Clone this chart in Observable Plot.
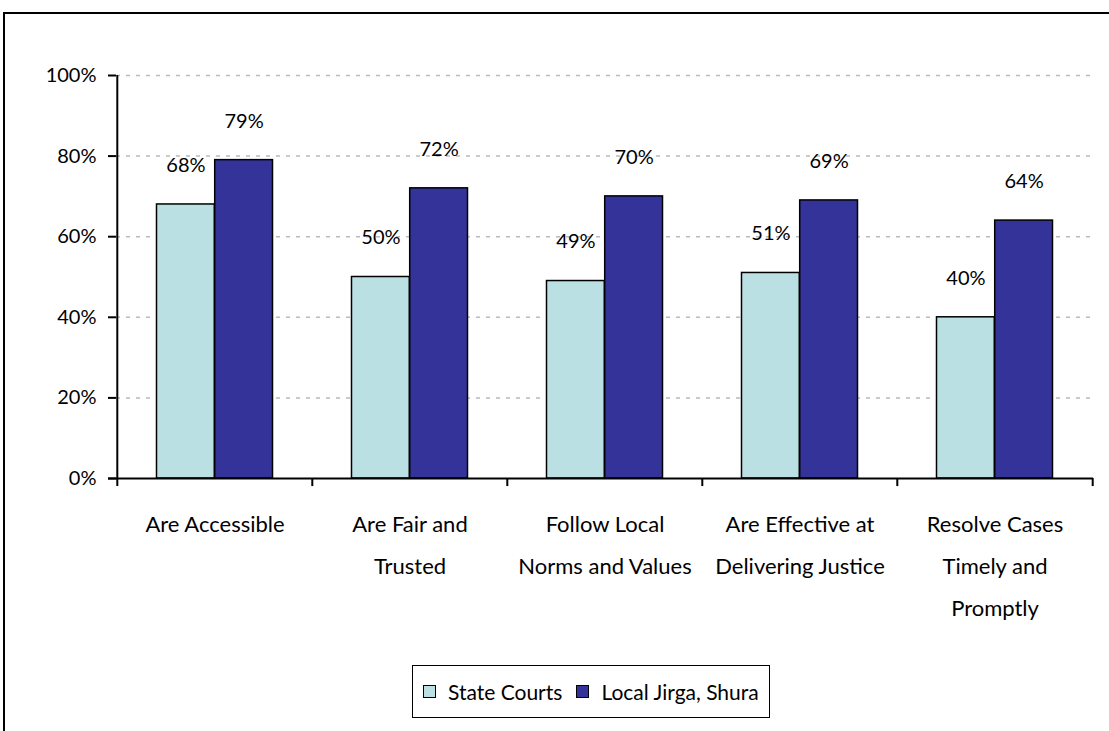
<!DOCTYPE html>
<html>
<head>
<meta charset="utf-8">
<script src="https://cdn.jsdelivr.net/npm/d3@7"></script>
<script src="https://cdn.jsdelivr.net/npm/@observablehq/plot@0.6"></script>
<style>
  html, body { margin: 0; padding: 0; background: #fff; }
  #wrap { position: relative; width: 1109px; height: 731px; overflow: hidden; font-family: Lato, "Open Sans", sans-serif; }
  #frame { position: absolute; left: 3px; top: 12px; width: 1200px; height: 800px; border-top: 2px solid #000; border-left: 2px solid #000; }
  #chart { position: absolute; left: 0; top: 0; }
  #legend { position: absolute; left: 412px; top: 665px; width: 358px; height: 53px; box-sizing: border-box; border: 1.5px solid #000; background: #fff;
            display: flex; align-items: center; font-size: 21px; color: #000; padding-left: 10px; }
  .item { display: flex; align-items: center; }
  .sw { width: 11px; height: 11px; border: 1.5px solid #000; margin-right: 12px; }
</style>
</head>
<body>
<div id="wrap">
  <div id="frame"></div>
  <div id="chart"></div>
  <div id="legend"></div>
</div>
<script>
const categories = ["Are Accessible", "Are Fair and Trusted", "Follow Local Norms and Values", "Are Effective at Delivering Justice", "Resolve Cases Timely and Promptly"];
const categoryLabels = ["Are Accessible", "Are Fair and\nTrusted", "Follow Local\nNorms and Values", "Are Effective at\nDelivering Justice", "Resolve Cases\nTimely and\nPromptly"];
const series = ["State Courts", "Local Jirga, Shura"];
const stateCourts = [0.68, 0.50, 0.49, 0.51, 0.40];
const localJirga = [0.79, 0.72, 0.70, 0.69, 0.64];
const colors = ["#BAE0E3", "#333399"];
const yTicks = [0, 0.2, 0.4, 0.6, 0.8, 1.0];

const W = 1109, H = 660, ML = 116, MR = 16, MT = 75, MB = H - 478;
const bw = (W - ML - MR) / categories.length;
const half = bw / 2;
const outer = 39.5;
const barW = half - outer;

const rowsA = categories.map((c, i) => ({cat: c, series: series[0], value: stateCourts[i]}));
const rowsB = categories.map((c, i) => ({cat: c, series: series[1], value: localJirga[i]}));
const fmt = d3.format(".0%");

const plot = Plot.plot({
  width: W, height: H,
  marginLeft: ML, marginRight: MR, marginTop: MT, marginBottom: MB,
  style: {fontFamily: "Lato, 'Open Sans', sans-serif", fontSize: "20px", color: "#000", background: "transparent"},
  x: {domain: categories, padding: 0, label: null},
  y: {domain: [0, 1], label: null},
  marks: [
    Plot.ruleY(yTicks.filter(d => d > 0), {stroke: "#bbb", strokeWidth: 1.5, strokeDasharray: "4,6"}),
    Plot.barY(rowsA, {x: "cat", y: "value", fill: colors[0], stroke: "#000", strokeWidth: 1.5, insetLeft: outer, insetRight: half}),
    Plot.barY(rowsB, {x: "cat", y: "value", fill: colors[1], stroke: "#000", strokeWidth: 1.5, insetLeft: half, insetRight: outer}),
    Plot.text(rowsA, {x: "cat", y: "value", text: d => fmt(d.value), dx: -barW / 2, dy: -39, fontSize: 20, fill: "#000"}),
    Plot.text(rowsB, {x: "cat", y: "value", text: d => fmt(d.value), dx: barW / 2, dy: -39, fontSize: 20, fill: "#000"}),
    Plot.ruleY([0], {stroke: "#000", strokeWidth: 2, insetLeft: -8}),
    Plot.ruleX([categories[0]], {dx: -half, y1: -0.02, y2: 1, stroke: "#000", strokeWidth: 2}),
    Plot.ruleX(categories.slice(1), {dx: -half, y1: -0.02, y2: 0, stroke: "#000", strokeWidth: 2}),
    Plot.ruleX([categories[categories.length - 1]], {dx: half, y1: -0.02, y2: 0, stroke: "#000", strokeWidth: 2}),
    Plot.axisY({ticks: yTicks, tickFormat: fmt, tickSize: 8, tickPadding: 12, fontSize: 20, strokeWidth: 2, label: null}),
    Plot.axisX({tickSize: 0, tickPadding: 24, tickFormat: d => categoryLabels[categories.indexOf(d)], lineHeight: 1.9, lineAnchor: "top", fontSize: 22, label: null})
  ]
});
document.getElementById("chart").appendChild(plot);

const legend = document.getElementById("legend");
series.forEach((s, i) => {
  const item = document.createElement("div");
  item.className = "item";
  if (i > 0) item.style.marginLeft = "14px";
  const sw = document.createElement("div");
  sw.className = "sw";
  sw.style.background = colors[i];
  const t = document.createElement("span");
  t.textContent = s;
  item.appendChild(sw); item.appendChild(t);
  legend.appendChild(item);
});
</script>
</body>
</html>
